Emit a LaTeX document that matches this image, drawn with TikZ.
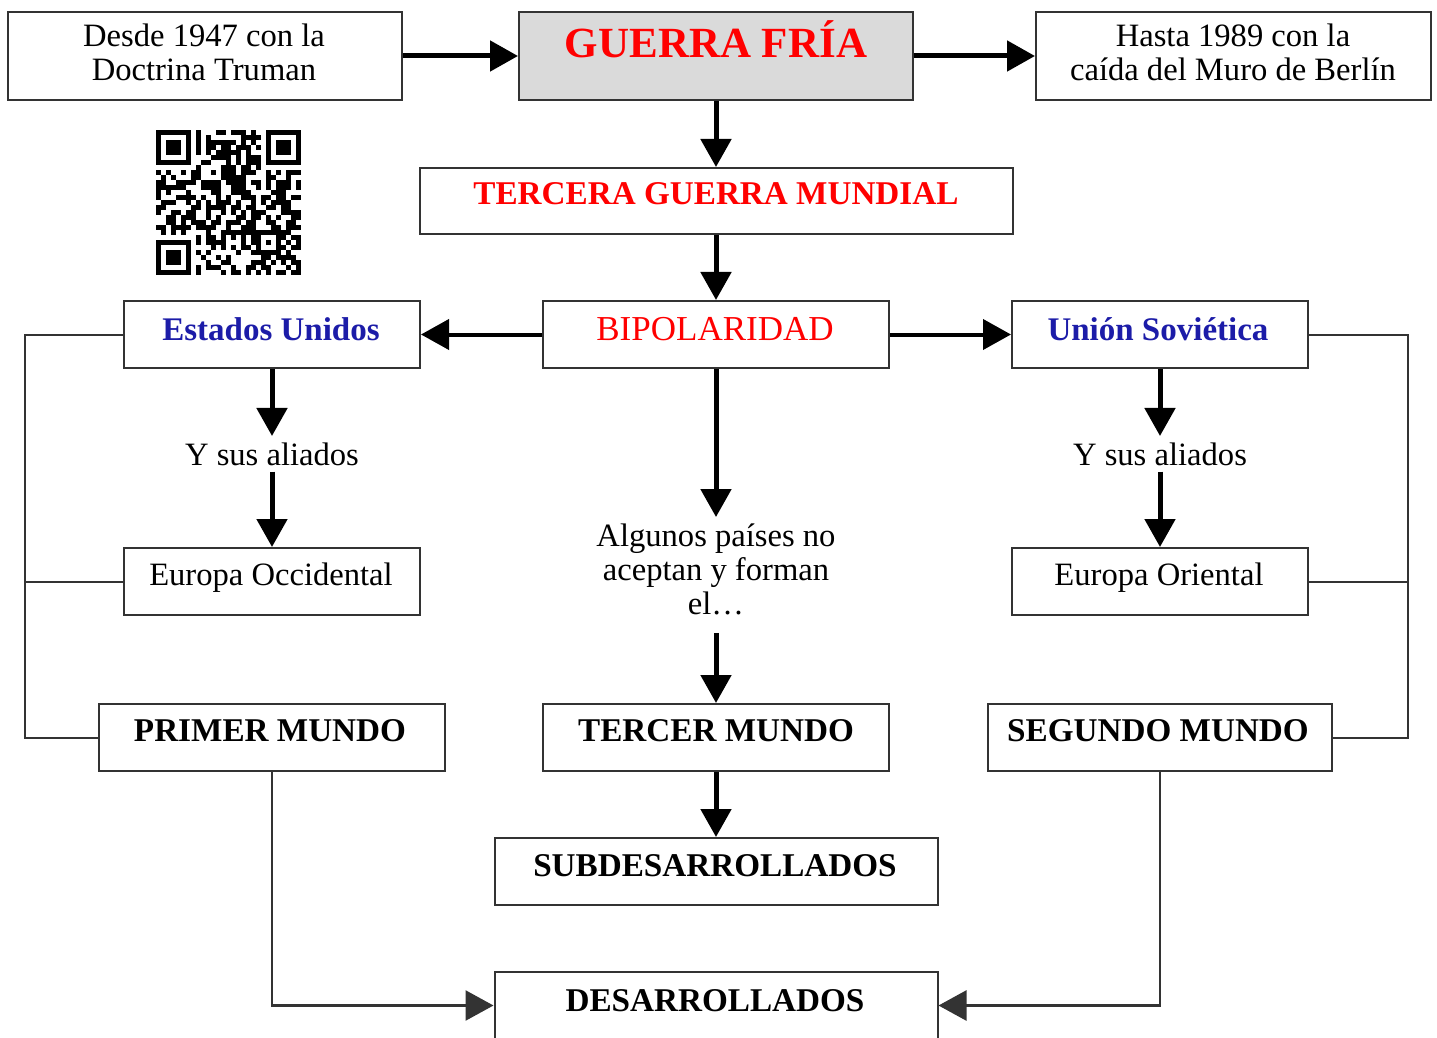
\documentclass[tikz,border=0pt]{standalone}
\usepackage{fontspec}
\setmainfont{Liberation Serif}
\usetikzlibrary{arrows.meta}
\definecolor{boxline}{HTML}{333333}
\definecolor{tred}{HTML}{FF0000}
\definecolor{tblue}{HTML}{1C1CA8}
\definecolor{gfill}{HTML}{DADADA}
\begin{document}
\begin{tikzpicture}[x=0.5pt,y=-0.5pt,
  box/.style={draw=boxline, line width=1pt, inner sep=0pt, rectangle},
  txt/.style={inner sep=3pt, font=\fontsize{16.3}{17}\selectfont, align=center},
  capt/.style={inner sep=3pt, font=\fontsize{16.6}{18}\selectfont\bfseries},
  plaincap/.style={inner sep=3pt, font=\fontsize{17.5}{18}\selectfont},
  bluet/.style={inner sep=3pt, font=\fontsize{16.5}{17}\selectfont\bfseries, text=tblue},
  arrT/.style={line width=2.5pt, -{Triangle[length=14pt,width=15pt]}},
  arrM/.style={line width=2pt, -{Triangle[length=14pt,width=15pt]}},
  arrB/.style={line width=1.3pt, draw=boxline, -{Triangle[length=14pt,width=15pt]}},
  thinl/.style={line width=1pt, draw=boxline}
]
\path[use as bounding box] (0,0) rectangle (1437,1038);
\clip (0,0) rectangle (1437,1038);

% top row
\node[box, minimum width=197pt, minimum height=44pt] (desde) at (205,56) {};
\node[txt] (desdeT) at (204,52) {Desde 1947 con la\\Doctrina Truman};
\node[box, fill=gfill, minimum width=197pt, minimum height=44pt] (gf) at (716,56) {};
\node[anchor=base, inner sep=3pt, font=\fontsize{21.5}{23}\selectfont\bfseries, text=tred] (gfT) at (716,58) {GUERRA FRÍA};
\node[box, minimum width=197.5pt, minimum height=44pt] (hasta) at (1233.5,56) {};
\node[txt] (hastaT) at (1233,52) {Hasta 1989 con la\\caída del Muro de Berlín};

% QR code
\begin{scope}[shift={(156,130)}]
  \foreach \fx/\fy in {0/0,22/0,0/22}{
    \fill (5*\fx,5*\fy) rectangle ++(35,35);
    \fill[white] (5*\fx+5,5*\fy+5) rectangle ++(25,25);
    \fill (5*\fx+10,5*\fy+10) rectangle ++(15,15);
  }
  \fill (100,100) rectangle ++(25,25);
  \fill[white] (105,105) rectangle ++(15,15);
  \fill (110,110) rectangle ++(5,5);
  \pgfmathsetseed{1989}
  \foreach \i in {0,...,28}{
    \foreach \j in {0,...,28}{
      \pgfmathtruncatemacro\qskip{((\i<8)&&(\j<8))||((\i>20)&&(\j<8))||((\i<8)&&(\j>20))||((\i>19)&&(\i<25)&&(\j>19)&&(\j<25)) ? 1 : 0}
      \pgfmathtruncatemacro\qon{rnd<0.55 ? 1 : 0}
      \ifnum\qskip=0 \ifnum\qon=1 \fill (5*\i,5*\j) rectangle ++(5.2,5.2); \fi\fi
    }
  }
\end{scope}

% second level
\node[box, minimum width=296.5pt, minimum height=33pt] (tgm) at (716,201) {};
\node[capt, anchor=base, text=tred] (tgmT) at (716,205) {TERCERA GUERRA MUNDIAL};

\node[box, minimum width=173pt, minimum height=33.5pt] (bip) at (716,334.5) {};
\node[plaincap, anchor=base, text=tred] (bipT) at (715,340) {BIPOLARIDAD};

\node[box, minimum width=148pt, minimum height=33.5pt] (eu) at (272,334.5) {};
\node[bluet, anchor=base] (euT) at (271,340) {Estados Unidos};
\node[box, minimum width=148pt, minimum height=33.5pt] (us) at (1160,334.5) {};
\node[bluet, anchor=base] (usT) at (1158,340) {Unión Soviética};

\node[txt, anchor=base] (yaL) at (272,465) {Y sus aliados};
\node[txt, anchor=base] (yaR) at (1160,465) {Y sus aliados};

\node[box, minimum width=148pt, minimum height=33.5pt] (eocc) at (272,581.5) {};
\node[txt, anchor=base] (eoccT) at (271,585) {Europa Occidental};
\node[box, minimum width=148pt, minimum height=33.5pt] (eor) at (1160,581.5) {};
\node[txt, anchor=base] (eorT) at (1159,585) {Europa Oriental};

\node[txt] (alg) at (716,569) {Algunos países no\\aceptan y forman\\el…};

\node[box, minimum width=173pt, minimum height=33.5pt] (pm) at (272,737.5) {};
\node[capt, anchor=base] (pmT) at (270,741) {PRIMER MUNDO};
\node[box, minimum width=173pt, minimum height=33.5pt] (tm) at (716,737.5) {};
\node[capt, anchor=base] (tmT) at (716,741) {TERCER MUNDO};
\node[box, minimum width=172pt, minimum height=33.5pt] (sm) at (1160,737.5) {};
\node[capt, anchor=base] (smT) at (1158,741) {SEGUNDO MUNDO};

\node[box, minimum width=221.5pt, minimum height=33.5pt] (sub) at (716,871.5) {};
\node[capt, anchor=base] (subT) at (715,876) {SUBDESARROLLADOS};
\node[box, minimum width=221.5pt, minimum height=33.5pt] (des) at (716,1005.5) {};
\node[capt, anchor=base] (desT) at (715,1011) {DESARROLLADOS};

% connectors
\draw[arrT] (desde.east) -- (gf.west);
\draw[arrT] (gf.east) -- (hasta.west);
\draw[arrT] (gf.south) -- (tgm.north);
\draw[arrT] (tgm.south) -- (bip.north);
\draw[arrM] (bip.west) -- (eu.east);
\draw[arrM] (bip.east) -- (us.west);
\draw[arrT] (eu.south) -- (yaL.north);
\draw[arrT] (yaL.south) -- (eocc.north);
\draw[arrT] (us.south) -- (yaR.north);
\draw[arrT] (yaR.south) -- (eor.north);
\draw[arrT] (bip.south) -- (alg.north);
\draw[arrT, shorten <=6pt] (alg.south) -- (tm.north);
\draw[arrT] (tm.south) -- (sub.north);

\coordinate (lt) at (25,334);
\coordinate (rt) at (1408,334);
\draw[thinl] (eu.west) -- (eu.west -| lt) |- (pm.west);
\draw[thinl] (eocc.west) -- (eocc.west -| lt);
\draw[thinl] (us.east) -- (us.east -| rt) |- (sm.east);
\draw[thinl] (eor.east) -- (eor.east -| rt);

\draw[arrB] (pm.south) |- (des.west);
\draw[arrB] (sm.south) |- (des.east);
\end{tikzpicture}
\end{document}
